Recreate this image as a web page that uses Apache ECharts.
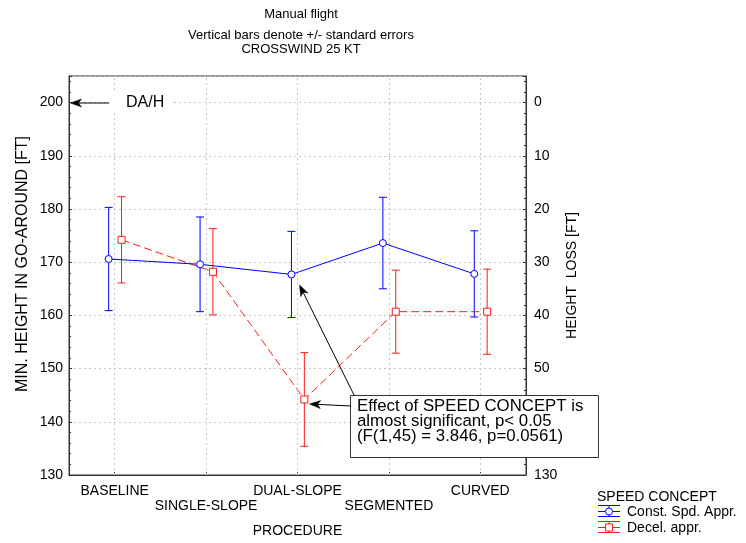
<!DOCTYPE html>
<html>
<head>
<meta charset="utf-8">
<script src="https://cdn.jsdelivr.net/npm/echarts@6/dist/echarts.min.js"></script>
<style>html,body{margin:0;padding:0;background:#fff}#c{width:746px;height:543px}</style>
</head>
<body>
<div id="c"></div>
<script>
// ---- data ----
const categories = ['BASELINE', 'SINGLE-SLOPE', 'DUAL-SLOPE', 'SEGMENTED', 'CURVED'];
const constSpdMean = [170.6, 169.6, 167.7, 173.6, 167.8];
const constSpdErr  = [9.7, 8.9, 8.1, 8.6, 8.1];
const decelMean    = [174.2, 168.2, 144.2, 160.7, 160.7];
const decelErr     = [8.1, 8.1, 8.8, 7.8, 8.0];
const seriesNames  = ['Const. Spd. Appr.', 'Decel. appr.'];
const rightTickLabels = ['130', '', '50', '40', '30', '20', '10', '0']; // for 130,140,...,200
const yMin = 130, yMax = 205, yStep = 10;

// ---- styles ----
const FONT = 'Liberation Sans, Arial, sans-serif';
const BLUE = '#0000ff', RED = '#ff1a1a';
const blueOff = -0.066, redOff = 0.075;
const gridColor = '#c4c4c4';

const chart = echarts.init(document.getElementById('c'), null, {renderer: 'canvas'});

function pts(mean, off) { return mean.map((m, i) => [i + off, m]); }
function errData(mean, err, off) { return mean.map((m, i) => [i + off, m - err[i], m + err[i]]); }

function errRender(color) {
  return function (params, api) {
    const x = api.value(0);
    const lo = api.coord([x, api.value(1)]);
    const hi = api.coord([x, api.value(2)]);
    const hw = 4;
    const st = {stroke: color, lineWidth: 1};
    return {
      type: 'group',
      children: [
        {type: 'line', shape: {x1: lo[0], y1: lo[1], x2: hi[0], y2: hi[1]}, style: st},
        {type: 'line', shape: {x1: lo[0] - hw, y1: lo[1], x2: lo[0] + hw, y2: lo[1]}, style: st},
        {type: 'line', shape: {x1: hi[0] - hw, y1: hi[1], x2: hi[0] + hw, y2: hi[1]}, style: st}
      ]
    };
  };
}

// annotation arrow (pixel placed), filled notched head
function arrow(fx, fy, tx, ty) {
  const dx = tx - fx, dy = ty - fy, len = Math.hypot(dx, dy);
  const ux = dx / len, uy = dy / len, px = -uy, py = ux;
  const L = 11, W = 4, N = 8;
  const bx = tx - ux * L, by = ty - uy * L;
  const nx = tx - ux * N, ny = ty - uy * N;
  return [
    {type: 'line', z: 60, shape: {x1: fx, y1: fy, x2: nx, y2: ny}, style: {stroke: '#000', lineWidth: 1}},
    {type: 'polygon', z: 60, shape: {points: [[tx, ty], [bx + px * W, by + py * W], [nx, ny], [bx - px * W, by - py * W]]},
     style: {fill: '#000', stroke: '#000', lineWidth: 0.5}}
  ];
}

function legendIcon(y, color, marker) {
  const x0 = 598, w = 22, cx = x0 + w / 2;
  const st = {stroke: color, lineWidth: 1, fill: null};
  const kids = [
    {type: 'line', shape: {x1: x0, y1: y - 6, x2: x0 + w, y2: y - 6}, style: st},
    {type: 'line', shape: {x1: x0, y1: y, x2: x0 + w, y2: y}, style: st},
    {type: 'line', shape: {x1: x0, y1: y + 5, x2: x0 + w, y2: y + 5}, style: st},
    {type: 'line', shape: {x1: cx, y1: y - 6, x2: cx, y2: y + 5}, style: st}
  ];
  if (marker === 'circle') kids.push({type: 'circle', shape: {cx: cx, cy: y, r: 3.5}, style: {stroke: color, fill: '#fff', lineWidth: 1}});
  else kids.push({type: 'rect', shape: {x: cx - 3.5, y: y - 3.5, width: 7, height: 7}, style: {stroke: color, fill: '#fff', lineWidth: 1}});
  return kids;
}

const option = {
  animation: false,
  backgroundColor: '#fff',
  title: [
    {text: 'Manual flight', left: 301, top: 8, padding: 0, textAlign: 'center',
     textStyle: {fontFamily: FONT, fontSize: 13, fontWeight: 'normal', color: '#000'}},
    {text: 'Vertical bars denote +/- standard errors\nCROSSWIND 25 KT', left: 301, top: 29, padding: 0, textAlign: 'center',
     textStyle: {fontFamily: FONT, fontSize: 13, lineHeight: 13.5, fontWeight: 'normal', color: '#000'}}
  ],
  grid: {left: 69, right: 220, top: 76, bottom: 63, show: true, borderColor: '#333', borderWidth: 1, containLabel: false},
  xAxis: [
    {
      type: 'category', data: categories, boundaryGap: true, position: 'bottom',
      axisLine: {onZero: false, lineStyle: {color: '#333'}},
      axisTick: {show: true, inside: true, alignWithLabel: true, length: 3, lineStyle: {color: '#333'}},
      splitLine: {show: false},
      axisLabel: {interval: 0, margin: 9, fontSize: 14, lineHeight: 15, fontFamily: FONT, color: '#000',
                  formatter: (v, i) => (i % 2 ? '\n' + v : v)},
      name: 'PROCEDURE', nameLocation: 'middle', nameGap: 49, nameMoveOverlap: false,
      nameTextStyle: {fontFamily: FONT, fontSize: 14, color: '#000'}
    },
    {type: 'value', min: -0.5, max: 4.5, show: false, axisLine: {onZero: false}}
  ],
  yAxis: [
    {
      type: 'value', min: yMin, max: yMax, interval: yStep, position: 'left',
      axisLine: {show: true, onZero: false, lineStyle: {color: '#333'}},
      axisTick: {show: true, inside: true, length: 3, lineStyle: {color: '#333'}},
      minorTick: {show: true, splitNumber: 5, length: 2, lineStyle: {color: '#333'}},
      splitLine: {show: true, lineStyle: {color: gridColor, type: [2, 3], width: 1}},
      axisLabel: {margin: 6, fontSize: 14, fontFamily: FONT, color: '#000',
                  formatter: v => (v > 200 ? '' : String(v))},
      name: 'MIN. HEIGHT IN GO-AROUND [FT]', nameLocation: 'middle', nameGap: 38, nameRotate: 90,
      nameMoveOverlap: false,
      nameTextStyle: {fontFamily: FONT, fontSize: 16, color: '#000', padding: [0, 0, 0, 23]}
    },
    {
      type: 'value', min: yMin, max: yMax, interval: yStep, position: 'right',
      axisLine: {show: true, onZero: false, lineStyle: {color: '#333'}},
      axisTick: {show: true, inside: true, length: 3, lineStyle: {color: '#333'}},
      minorTick: {show: true, splitNumber: 5, length: 2, lineStyle: {color: '#333'}},
      splitLine: {show: false},
      axisLabel: {margin: 8, fontSize: 14, fontFamily: FONT, color: '#000',
                  formatter: v => { const k = Math.round((v - yMin) / yStep); return (v > 200 || Math.abs(v - (yMin + k * yStep)) > 1e-6) ? '' : (rightTickLabels[k] || ''); }},
      name: 'HEIGHT  LOSS [FT]', nameLocation: 'middle', nameGap: 39, nameRotate: 90,
      nameMoveOverlap: false,
      nameTextStyle: {fontFamily: FONT, fontSize: 14, color: '#000'}
    }
  ],
  series: [
    {
      name: 'gridlines', type: 'line', xAxisIndex: 1, yAxisIndex: 0, z: 1, data: [], silent: true,
      markLine: {
        silent: true, symbol: ['none', 'none'], animation: false,
        label: {show: false},
        lineStyle: {color: gridColor, type: [2, 3], width: 1},
        emphasis: {disabled: true},
        data: categories.map((c, i) => [{coord: [i, yMin]}, {coord: [i, yMax]}])
      }
    },
    {
      name: seriesNames[0] + ' err', type: 'custom', xAxisIndex: 1, yAxisIndex: 0, z: 3,
      renderItem: errRender(BLUE), data: errData(constSpdMean, constSpdErr, blueOff), silent: true
    },
    {
      name: seriesNames[1] + ' err', type: 'custom', xAxisIndex: 1, yAxisIndex: 0, z: 3,
      renderItem: errRender(RED), data: errData(decelMean, decelErr, redOff), silent: true
    },
    {
      name: seriesNames[1], type: 'line', xAxisIndex: 1, yAxisIndex: 0, z: 4,
      data: pts(decelMean, redOff),
      symbol: 'rect', symbolSize: 7, showSymbol: true,
      itemStyle: {color: '#fff', borderColor: RED, borderWidth: 1},
      lineStyle: {color: RED, width: 1, type: [8, 4]}
    },
    {
      name: seriesNames[0], type: 'line', xAxisIndex: 1, yAxisIndex: 0, z: 5,
      data: pts(constSpdMean, blueOff),
      symbol: 'circle', symbolSize: 7, showSymbol: true,
      itemStyle: {color: '#fff', borderColor: BLUE, borderWidth: 1},
      lineStyle: {color: BLUE, width: 1}
    }
  ],
  graphic: [
    {type: 'text', x: 110, y: 103, z: 20,
     style: {text: 'DA/H', font: '16px ' + FONT, fill: '#000', verticalAlign: 'middle',
             backgroundColor: '#fff', padding: [2, 7, 2, 16]}},
    ...arrow(109, 103, 70.5, 103),
    ...arrow(354, 395, 299.5, 285),
    ...arrow(351, 406, 309.5, 404),
    {type: 'rect', z: 50, shape: {x: 350.5, y: 395.5, width: 248, height: 62},
     style: {fill: '#fff', stroke: '#333', lineWidth: 1}},
    {type: 'text', z: 51, x: 357, y: 399,
     style: {text: 'Effect of SPEED CONCEPT is\nalmost significant, p< 0.05\n(F(1,45) = 3.846, p=0.0561)',
             font: '16.8px ' + FONT, lineHeight: 14.8, fill: '#000'}},
    {type: 'text', z: 20, x: 597, y: 490,
     style: {text: 'SPEED CONCEPT', font: '14px ' + FONT, fill: '#000'}},
    {type: 'group', z: 20, children: legendIcon(511.5, BLUE, 'circle')},
    {type: 'text', z: 20, x: 627, y: 505,
     style: {text: seriesNames[0], font: '14px ' + FONT, fill: '#000'}},
    {type: 'group', z: 20, children: legendIcon(527.5, RED, 'rect')},
    {type: 'text', z: 20, x: 627, y: 521,
     style: {text: seriesNames[1], font: '14px ' + FONT, fill: '#000'}}
  ]
};
chart.setOption(option);
</script>
</body>
</html>
